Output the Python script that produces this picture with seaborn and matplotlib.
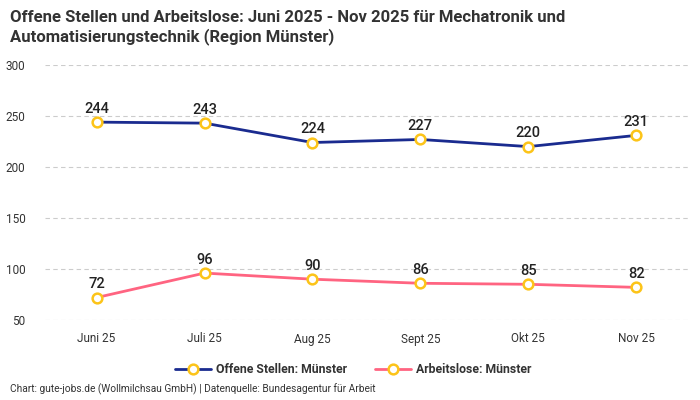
import pandas as pd
import seaborn as sns
import matplotlib.pyplot as plt

# Daten
monate = ['Juni 25', 'Juli 25', 'Aug 25', 'Sept 25', 'Okt 25', 'Nov 25']
offene_stellen = [244, 243, 224, 227, 220, 231]
arbeitslose = [72, 96, 90, 86, 85, 82]
serien = ['Offene Stellen: Münster', 'Arbeitslose: Münster']
farben = ['#1a2b8f', '#ff6481']

dados = pd.DataFrame({
    'monat': monate * 2,
    'wert': offene_stellen + arbeitslose,
    'serie': [serien[0]] * len(monate) + [serien[1]] * len(monate),
})
dados['pos'] = list(range(len(monate))) * 2

sns.set_style('white')
plt.rcParams['font.family'] = ['Roboto', 'DejaVu Sans']

fig = plt.figure(figsize=(7, 4), dpi=100)
ax = fig.add_axes([0.064, 0.2, 0.922, 0.6375])

sns.lineplot(dados, x='pos', y='wert', hue='serie', palette=farben, ax=ax,
             linewidth=2, marker='o', markersize=7, markerfacecolor='white',
             markeredgecolor='#fcc419', markeredgewidth=1.8)

# Werte ueber den Punkten
for _, linha in dados.iterrows():
    ax.annotate(str(linha['wert']), (linha['pos'], linha['wert']),
                xytext=(0, 4.5), textcoords='offset points', ha='center', va='bottom',
                fontsize=10.5, fontweight='medium', color='#222222')

ax.set_xlim(-0.48, 5.5)
ax.set_ylim(50, 300)
ax.set_yticks([50, 100, 150, 200, 250, 300])
ax.set_xticks(range(len(monate)))
ax.set_xticklabels(monate)
ax.grid(axis='y', linestyle=(0, (4, 3)), color='#cccccc', linewidth=0.8)
ax.set_axisbelow(True)
for s in ax.spines.values():
    s.set_visible(False)
ax.tick_params(axis='both', length=0, labelsize=8.5, colors='#333333')
ax.tick_params(axis='y', pad=14)
ax.tick_params(axis='x', pad=9)
ax.set_xlabel('')
ax.set_ylabel('')

leg = ax.legend(loc='upper center', bbox_to_anchor=(0.478, -0.125), ncol=2, frameon=False,
                fontsize=8.8, handlelength=2.9, handletextpad=0.45, columnspacing=2.3)
for t in leg.get_texts():
    t.set_fontweight('bold')
    t.set_color('#333333')

fig.text(0.014, 0.975, 'Offene Stellen und Arbeitslose: Juni 2025 - Nov 2025 für Mechatronik und\n'
         'Automatisierungstechnik (Region Münster)', ha='left', va='top',
         fontsize=12, fontweight='bold', color='#333333', linespacing=1.25)
fig.text(0.014, 0.012, 'Chart: gute-jobs.de (Wollmilchsau GmbH) | Datenquelle: Bundesagentur für Arbeit',
         ha='left', va='bottom', fontsize=7.3, color='#333333')

plt.savefig('out.png', dpi=100)
